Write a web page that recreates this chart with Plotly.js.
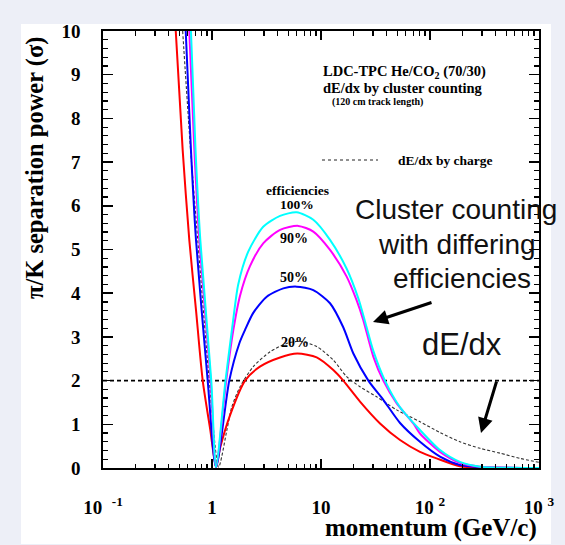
<!DOCTYPE html>
<html>
<head>
<meta charset="utf-8">
<script src="https://cdn.plot.ly/plotly-3.0.1.min.js"></script>
<style>html,body{margin:0;padding:0;background:#edeff7;}#chart{width:565px;height:545px;}</style>
</head>
<body>
<div id="chart"></div>
<script>
// ---- data ----
const eff20X = [0.465, 0.538, 0.619, 0.713, 0.822, 0.965, 1.088, 1.184, 1.46, 2.01, 2.75, 4.21, 6.06, 9.13, 12.97, 16.0, 22.8, 34.8, 53.1, 80.9, 115, 188, 300, 1000];
const eff20Y = [10, 7.28, 5.22, 3.62, 2.0, 0.87, 0.02, 0.45, 1.2, 2.0, 2.32, 2.53, 2.62, 2.53, 2.24, 2.0, 1.52, 1.02, 0.64, 0.37, 0.22, 0.04, 0.01, 0];

const eff50X = [0.574, 0.641, 0.713, 0.913, 1.088, 1.44, 1.78, 2.01, 2.39, 3.18, 4.51, 5.98, 8.5, 12.1, 16.0, 19.8, 27.2, 37.3, 53.1, 80.9, 123.6, 188, 288, 1000];
const eff50Y = [10, 7.28, 5.22, 2.0, 0.02, 2.0, 2.85, 3.16, 3.55, 3.92, 4.11, 4.15, 4.07, 3.77, 3.22, 2.62, 2.0, 1.56, 1.03, 0.6, 0.26, 0.07, 0.02, 0];

const eff90X = [0.619, 0.689, 0.765, 0.973, 1.088, 1.35, 1.57, 1.81, 2.23, 2.95, 4.21, 6.19, 8.5, 12.1, 17.2, 21.2, 24.4, 30.2, 37.3, 49.5, 70.3, 80.9, 123.6, 188, 288, 1000];
const eff90Y = [10, 7.28, 5.22, 2.0, 0.02, 2.0, 3.16, 3.95, 4.62, 5.14, 5.45, 5.54, 5.41, 4.99, 4.38, 3.84, 3.39, 2.55, 2.0, 1.48, 1.02, 0.79, 0.37, 0.12, 0.03, 0];

const eff100X = [0.641, 0.706, 0.781, 0.985, 1.088, 1.33, 1.55, 1.74, 2.15, 2.95, 4.21, 5.98, 8.5, 12.1, 17.2, 22.0, 25.3, 30.2, 38.6, 53.1, 80.9, 123.6, 188, 288, 1000];
const eff100Y = [10, 7.28, 5.22, 2.0, 0.02, 2.0, 3.31, 4.2, 4.95, 5.52, 5.77, 5.85, 5.68, 5.22, 4.56, 3.88, 3.36, 2.68, 2.0, 1.39, 0.87, 0.41, 0.14, 0.03, 0];

const chargeX = [0.538, 0.636, 0.74, 0.944, 1.15, 1.37, 1.52, 1.81, 2.39, 3.41, 4.84, 6.41, 9.13, 12.97, 17.2, 22.8, 32.4, 49.5, 80.9, 123.6, 188, 288, 438, 670, 1000];
const chargeY = [10, 7.28, 5.22, 2.0, 0.02, 0.87, 1.40, 1.86, 2.32, 2.66, 2.85, 2.90, 2.78, 2.47, 2.09, 1.86, 1.63, 1.33, 1.06, 0.81, 0.60, 0.45, 0.34, 0.22, 0.13];

const thresholdX = [0.1, 1000];
const thresholdY = [2, 2];

const xTickVals = [0.1, 1, 10, 100, 1000];
const xTickText = ['10&nbsp;&nbsp;<sup>-1</sup>', '1', '10', '10&nbsp;<sup>2</sup>', '10&nbsp;<sup>3</sup>'];
const effLabels = ['100%', '90%', '50%', '20%'];

// ---- layout helpers (pixel -> paper) ----
const L = 103, R = 539, T = 31, B = 468;
const px = x => (x - L) / (R - L);
const py = y => (B - y) / (B - T);

const minorX = [];
[0.1, 1, 10, 100].forEach(d => { for (let k = 2; k <= 9; k++) minorX.push(d * k); });

const serif = 'Liberation Serif, Times New Roman, serif';
const sans = 'Liberation Sans, Arial, sans-serif';

function line(x, y, color, width, dash) {
  return {x: x, y: y, type: 'scatter', mode: 'lines', hoverinfo: 'skip',
    line: {color: color, width: width, dash: dash || 'solid', shape: 'spline', smoothing: 0.7}};
}

const traces = [
  {x: thresholdX, y: thresholdY, type: 'scatter', mode: 'lines', line: {color: '#000', width: 1.6, dash: '4px,3px'}},
  line(chargeX, chargeY, '#333', 1.1, '3px,2px'),
  line(eff20X, eff20Y, '#ff0000', 2),
  line(eff50X, eff50Y, '#0000ff', 2),
  line(eff90X, eff90Y, '#ff00ff', 2),
  line(eff100X, eff100Y, '#00ffff', 2)
];

function txt(text, x, y, size, opts) {
  return Object.assign({text: text, xref: 'paper', yref: 'paper', x: px(x), y: py(y),
    xanchor: 'left', yanchor: 'middle', showarrow: false,
    font: {family: serif, size: size, color: '#000', weight: 'bold'}}, opts || {});
}

const annotations = [
  txt('π/K separation power (σ)', 35, 168, 24.5, {xanchor: 'center', textangle: -90}),
  txt('momentum (GeV/c)', 539, 528, 25, {xanchor: 'right'}),
  txt('LDC-TPC He/CO<sub>2</sub> (70/30)', 321, 72, 14.5),
  txt('dE/dx by cluster counting', 321, 88, 14.5),
  txt('(120 cm track length)', 330, 102, 10),
  txt('dE/dx by charge', 396, 160, 13.5),
  txt('efficiencies', 297, 190, 13.5, {xanchor: 'center'}),
  txt(effLabels[0], 297, 204.5, 13.5, {xanchor: 'center'}),
  txt(effLabels[1], 294, 238, 14, {xanchor: 'center'}),
  txt(effLabels[2], 294, 277, 14, {xanchor: 'center'}),
  txt(effLabels[3], 295, 343, 14, {xanchor: 'center'}),
  txt('Cluster counting', 456, 209, 28, {xanchor: 'center', font: {family: sans, size: 28, color: '#111'}}),
  txt('with differing', 457, 244, 28, {xanchor: 'center', font: {family: sans, size: 28, color: '#111'}}),
  txt('efficiencies', 462, 278, 28, {xanchor: 'center', font: {family: sans, size: 28, color: '#111'}}),
  txt('dE/dx', 462, 344, 31, {xanchor: 'center', font: {family: sans, size: 31, color: '#111'}}),
  {text: '', xref: 'paper', yref: 'paper', x: px(373), y: py(322), showarrow: true,
    ax: 60, ay: -20, arrowhead: 2, arrowsize: 1, arrowwidth: 3, arrowcolor: '#000'},
  {text: '', xref: 'paper', yref: 'paper', x: px(481), y: py(433), showarrow: true,
    ax: 16, ay: -53, arrowhead: 2, arrowsize: 1, arrowwidth: 3, arrowcolor: '#000'}
];

const shapes = [
  {type: 'rect', xref: 'paper', yref: 'paper', x0: px(21), x1: px(551), y0: py(544), y1: py(24),
    fillcolor: '#ffffff', line: {width: 0}, layer: 'below'},
  {type: 'line', xref: 'paper', yref: 'paper', x0: px(322), x1: px(378), y0: py(160), y1: py(160),
    line: {color: '#222', width: 1.2, dash: '3px,3px'}}
];

const layout = {
  width: 565, height: 545,
  margin: {l: L, r: 565 - R, t: T, b: 545 - B},
  paper_bgcolor: '#edeff7', plot_bgcolor: '#ffffff',
  showlegend: false,
  xaxis: {type: 'log', range: [-1, 3], tickmode: 'array', tickvals: xTickVals, ticktext: xTickText,
    ticks: 'inside', ticklen: 9, tickwidth: 1.5, tickcolor: '#000',
    showline: true, linewidth: 1.8, linecolor: '#000', mirror: 'ticks', showgrid: false, zeroline: false,
    ticklabelstandoff: 21,
    tickfont: {family: serif, size: 19, color: '#000', weight: 'bold'},
    minor: {tickmode: 'array', tickvals: minorX, ticks: 'inside', ticklen: 4.5, tickwidth: 1.2, tickcolor: '#000', showgrid: false}},
  yaxis: {range: [0, 10], dtick: 1, ticks: 'inside', ticklen: 10, tickwidth: 1.5, tickcolor: '#000',
    showline: true, linewidth: 1.8, linecolor: '#000', mirror: 'ticks', showgrid: false, zeroline: false,
    ticklabelstandoff: 17,
    tickfont: {family: serif, size: 19, color: '#000', weight: 'bold'},
    minor: {dtick: 0.2, ticks: 'inside', ticklen: 5, tickwidth: 1.2, tickcolor: '#000', showgrid: false}},
  annotations: annotations,
  shapes: shapes
};

Plotly.newPlot('chart', traces, layout, {displayModeBar: false, staticPlot: true});
</script>
</body>
</html>
